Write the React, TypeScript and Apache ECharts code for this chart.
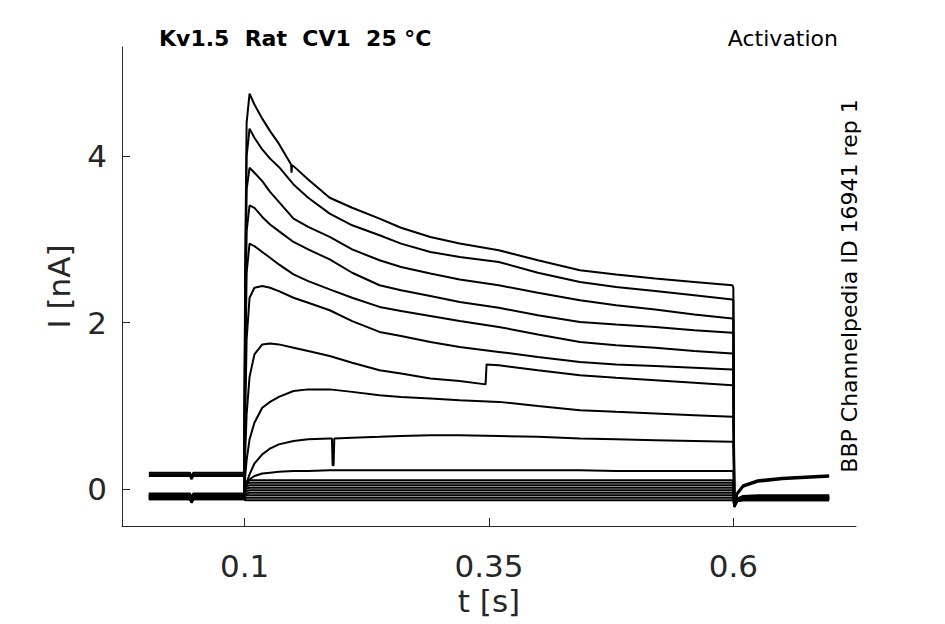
import React, { useEffect, useRef } from "react";
import * as echarts from "echarts";

// Sample times (s) shared by all sweeps
const TIMES = [
  0.002, 0.044, 0.0457, 0.0475, 0.0995, 0.1005, 0.102, 0.105, 0.11, 0.118, 0.126, 0.135, 0.15, 0.165,
  0.187, 0.21, 0.238, 0.26, 0.29, 0.32, 0.36, 0.4, 0.443, 0.48, 0.52, 0.56, 0.599, 0.6, 0.601, 0.604,
  0.61, 0.625, 0.65, 0.698,
];

// Current (nA) of each sweep at TIMES
const SWEEP_1 = [0.2, 0.2, 0.15, 0.2, 0.2, 2.6, 4.4, 4.75, 4.62, 4.45, 4.3, 4.15, 3.88, 3.72, 3.5, 3.38, 3.25, 3.14, 3.03, 2.95, 2.87, 2.75, 2.63, 2.58, 2.53, 2.49, 2.45, 2.42, -0.21, -0.04, 0.05, 0.11, 0.14, 0.17];
const SWEEP_2 = [0.18, 0.18, 0.13, 0.18, 0.18, 2.3, 4.0, 4.33, 4.22, 4.08, 3.97, 3.87, 3.66, 3.5, 3.31, 3.17, 3.05, 2.95, 2.85, 2.79, 2.73, 2.6, 2.49, 2.43, 2.38, 2.33, 2.28, 2.27, -0.2, -0.05, 0.04, 0.1, 0.13, 0.16];
const SWEEP_3 = [0.16, 0.16, 0.12, 0.16, 0.16, 2.0, 3.6, 3.86, 3.8, 3.7, 3.57, 3.45, 3.25, 3.15, 3.03, 2.88, 2.75, 2.67, 2.59, 2.52, 2.45, 2.36, 2.27, 2.21, 2.16, 2.1, 2.05, 2.04, -0.19, -0.06, 0.03, 0.09, 0.12, 0.15];
const SWEEP_4 = [-0.06, -0.06, -0.1, -0.06, -0.06, 1.6, 3.1, 3.41, 3.38, 3.27, 3.18, 3.1, 2.97, 2.88, 2.76, 2.6, 2.45, 2.39, 2.32, 2.25, 2.18, 2.09, 2.01, 1.98, 1.95, 1.91, 1.88, 1.87, -0.2, -0.12, -0.09, -0.08, -0.08, -0.08];
const SWEEP_5 = [-0.07, -0.07, -0.11, -0.07, -0.07, 1.3, 2.6, 2.95, 2.92, 2.85, 2.78, 2.7, 2.58, 2.5, 2.4, 2.3, 2.19, 2.14, 2.08, 2.02, 1.95, 1.86, 1.77, 1.73, 1.7, 1.66, 1.63, 1.62, -0.2, -0.12, -0.09, -0.09, -0.09, -0.09];
const SWEEP_6 = [-0.08, -0.08, -0.12, -0.08, -0.08, 0.8, 1.8, 2.3, 2.42, 2.44, 2.42, 2.38, 2.3, 2.24, 2.15, 2.02, 1.89, 1.84, 1.77, 1.71, 1.65, 1.59, 1.53, 1.5, 1.48, 1.46, 1.44, 1.43, -0.21, -0.13, -0.1, -0.09, -0.09, -0.09];
const SWEEP_7 = [-0.09, -0.09, -0.13, -0.09, -0.09, 0.4, 0.9, 1.35, 1.62, 1.74, 1.75, 1.74, 1.7, 1.66, 1.6, 1.52, 1.43, 1.39, 1.33, 1.3, 1.49, 1.43, 1.37, 1.34, 1.31, 1.28, 1.25, 1.24, -0.2, -0.13, -0.1, -0.1, -0.1, -0.1];
const SWEEP_8 = [-0.1, -0.1, -0.14, -0.1, -0.1, 0.15, 0.35, 0.6, 0.8, 0.98, 1.05, 1.11, 1.18, 1.2, 1.2, 1.17, 1.13, 1.11, 1.09, 1.07, 1.05, 1.0, 0.95, 0.93, 0.91, 0.89, 0.87, 0.86, -0.2, -0.13, -0.11, -0.1, -0.1, -0.1];
const SWEEP_9 = [-0.1, -0.1, -0.14, -0.1, -0.1, 0.03, 0.08, 0.18, 0.31, 0.42, 0.49, 0.54, 0.58, 0.6, 0.61, 0.62, 0.63, 0.64, 0.65, 0.65, 0.64, 0.63, 0.61, 0.6, 0.59, 0.58, 0.57, 0.57, -0.2, -0.13, -0.11, -0.11, -0.11, -0.11];
const SWEEP_10 = [-0.11, -0.11, -0.15, -0.11, -0.11, 0.0, 0.06, 0.12, 0.16, 0.19, 0.2, 0.21, 0.22, 0.22, 0.23, 0.23, 0.23, 0.23, 0.23, 0.23, 0.23, 0.23, 0.23, 0.22, 0.22, 0.22, 0.22, 0.22, -0.2, -0.13, -0.11, -0.11, -0.11, -0.11];
const SWEEP_11 = [-0.05, -0.05, -0.09, -0.05, -0.05, 0.03, 0.09, 0.11, 0.11, 0.11, 0.11, 0.11, 0.11, 0.11, 0.11, 0.11, 0.11, 0.11, 0.11, 0.11, 0.11, 0.11, 0.11, 0.11, 0.11, 0.11, 0.11, 0.11, -0.19, -0.11, -0.08, -0.07, -0.07, -0.07];
const SWEEP_12 = [-0.06, -0.06, -0.1, -0.06, -0.06, 0.02, 0.07, 0.08, 0.08, 0.08, 0.08, 0.08, 0.08, 0.08, 0.08, 0.08, 0.08, 0.08, 0.08, 0.08, 0.08, 0.08, 0.08, 0.08, 0.08, 0.08, 0.08, 0.08, -0.19, -0.12, -0.09, -0.08, -0.08, -0.08];
const SWEEP_13 = [-0.07, -0.07, -0.11, -0.07, -0.07, 0.0, 0.04, 0.05, 0.05, 0.05, 0.05, 0.05, 0.05, 0.05, 0.05, 0.05, 0.05, 0.05, 0.05, 0.05, 0.05, 0.05, 0.05, 0.05, 0.05, 0.05, 0.05, 0.05, -0.2, -0.12, -0.1, -0.09, -0.09, -0.09];
const SWEEP_14 = [-0.08, -0.08, -0.12, -0.08, -0.08, -0.01, 0.01, 0.02, 0.02, 0.02, 0.02, 0.02, 0.02, 0.02, 0.02, 0.02, 0.02, 0.02, 0.02, 0.02, 0.02, 0.02, 0.02, 0.02, 0.02, 0.02, 0.02, 0.02, -0.2, -0.13, -0.1, -0.1, -0.1, -0.1];
const SWEEP_15 = [-0.09, -0.09, -0.13, -0.09, -0.09, -0.03, -0.02, -0.01, -0.01, -0.01, -0.01, -0.01, -0.01, -0.01, -0.01, -0.01, -0.01, -0.01, -0.01, -0.01, -0.01, -0.01, -0.01, -0.01, -0.01, -0.01, -0.01, -0.01, -0.2, -0.13, -0.11, -0.11, -0.11, -0.11];
const SWEEP_16 = [-0.1, -0.1, -0.14, -0.1, -0.1, -0.06, -0.05, -0.04, -0.04, -0.04, -0.04, -0.04, -0.04, -0.04, -0.04, -0.04, -0.04, -0.04, -0.04, -0.04, -0.04, -0.04, -0.04, -0.04, -0.04, -0.04, -0.04, -0.04, -0.21, -0.14, -0.12, -0.12, -0.12, -0.12];
const SWEEP_17 = [-0.11, -0.11, -0.15, -0.11, -0.11, -0.08, -0.07, -0.07, -0.07, -0.07, -0.07, -0.07, -0.07, -0.07, -0.07, -0.07, -0.07, -0.07, -0.07, -0.07, -0.07, -0.07, -0.07, -0.07, -0.07, -0.07, -0.07, -0.07, -0.21, -0.14, -0.12, -0.12, -0.12, -0.12];
const SWEEP_18 = [-0.12, -0.12, -0.16, -0.12, -0.12, -0.11, -0.1, -0.1, -0.1, -0.1, -0.1, -0.1, -0.1, -0.1, -0.1, -0.1, -0.1, -0.1, -0.1, -0.1, -0.1, -0.1, -0.1, -0.1, -0.1, -0.1, -0.1, -0.1, -0.21, -0.14, -0.13, -0.13, -0.13, -0.13];
const SWEEP_19 = [-0.12, -0.12, -0.16, -0.12, -0.12, -0.13, -0.13, -0.13, -0.13, -0.13, -0.13, -0.13, -0.13, -0.13, -0.13, -0.13, -0.13, -0.13, -0.13, -0.13, -0.13, -0.13, -0.13, -0.13, -0.13, -0.13, -0.13, -0.13, -0.21, -0.14, -0.13, -0.13, -0.13, -0.13];

// Glitches seen in single sweeps: [t, I]
const NOTCH_SWEEP_1 = [[0.1475, 3.9], [0.148, 3.8], [0.1485, 3.89]];
const STEP_SWEEP_7 = [[0.3465, 1.26], [0.3475, 1.5]];
const SPIKE_SWEEP_9 = [[0.1893, 0.61], [0.19, 0.29], [0.191, 0.29], [0.1917, 0.61]];

const SWEEPS = [
  SWEEP_1, SWEEP_2, SWEEP_3, SWEEP_4, SWEEP_5, SWEEP_6, SWEEP_7, SWEEP_8, SWEEP_9, SWEEP_10,
  SWEEP_11, SWEEP_12, SWEEP_13, SWEEP_14, SWEEP_15, SWEEP_16, SWEEP_17, SWEEP_18, SWEEP_19,
];
const EXTRAS: Record<number, number[][]> = { 0: NOTCH_SWEEP_1, 6: STEP_SWEEP_7, 8: SPIKE_SWEEP_9 };

const X_TICKS = [0.1, 0.35, 0.6];
const Y_TICKS = [0, 2, 4];

const TITLE = "Kv1.5  Rat  CV1  25 °C";
const PROTOCOL = "Activation";
const SOURCE = "BBP Channelpedia ID 16941 rep 1";

function sweepData(values: number[], extra: number[][] = []) {
  const pts = TIMES.map((t, i) => [t, values[i]]);
  extra.forEach((p) => pts.push(p));
  pts.sort((a, b) => a[0] - b[0]);
  return pts;
}

const AXIS_COLOR = "#262626";
const FONT = "DejaVu Sans";

export default function App() {
  const ref = useRef<HTMLDivElement>(null);
  useEffect(() => {
    if (!ref.current) return;
    const chart = echarts.init(ref.current, undefined, { renderer: "svg" });
    const series = SWEEPS.map((s, i) => ({
      type: "line",
      data: sweepData(s, EXTRAS[i]),
      showSymbol: false,
      symbol: "none",
      lineStyle: { color: "#000", width: 2 },
      silent: true,
    }));
    chart.setOption({
      animation: false,
      backgroundColor: "#fff",
      grid: { left: 122, right: 89, top: 47, bottom: 98 },
      xAxis: {
        type: "value",
        min: -0.0255,
        max: 0.7255,
        axisLine: { show: true, onZero: false, lineStyle: { color: AXIS_COLOR, width: 1 } },
        axisTick: { show: true, inside: true, length: 8, customValues: X_TICKS, lineStyle: { color: AXIS_COLOR } },
        axisLabel: { customValues: X_TICKS, fontSize: 31, color: AXIS_COLOR, fontFamily: FONT, margin: 24 },
        splitLine: { show: false },
        name: "t [s]",
        nameLocation: "middle",
        nameGap: 56,
        nameTextStyle: { fontSize: 31, color: AXIS_COLOR, fontFamily: FONT },
      },
      yAxis: {
        type: "value",
        min: -0.44,
        max: 5.31,
        axisLine: { show: true, onZero: false, lineStyle: { color: AXIS_COLOR, width: 1 } },
        axisTick: { show: true, inside: true, length: 8, customValues: Y_TICKS, lineStyle: { color: AXIS_COLOR } },
        axisLabel: { customValues: Y_TICKS, fontSize: 31, color: AXIS_COLOR, fontFamily: FONT, margin: 15 },
        splitLine: { show: false },
        name: "I [nA]",
        nameLocation: "middle",
        nameGap: 48,
        nameRotate: 90,
        nameTextStyle: { fontSize: 31, color: AXIS_COLOR, fontFamily: FONT },
      },
      graphic: [
        {
          type: "text",
          left: 159,
          top: 27,
          style: { text: TITLE, fontSize: 22, fontWeight: "bold", fontFamily: FONT, fill: "#000" },
        },
        {
          type: "text",
          x: 838,
          y: 38.5,
          style: { text: PROTOCOL, fontSize: 22, fontFamily: FONT, fill: "#000", align: "right", verticalAlign: "middle" },
        },
        {
          type: "text",
          x: 849,
          y: 286,
          rotation: Math.PI / 2,
          style: { text: SOURCE, fontSize: 22, fontFamily: FONT, fill: "#000", align: "center", verticalAlign: "middle" },
        },
      ],
      series,
    });
    return () => chart.dispose();
  }, []);
  return (
    <div
      ref={ref}
      style={{ position: "fixed", left: 0, top: 0, width: 945, height: 624, background: "#fff" }}
    />
  );
}
